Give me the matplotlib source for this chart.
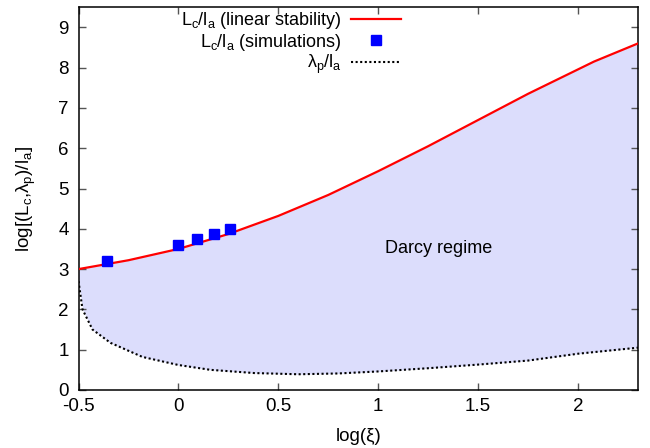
import numpy as np
import matplotlib
matplotlib.use("Agg")
import matplotlib.pyplot as plt

plt.rcParams['font.family'] = ['Liberation Sans', 'DejaVu Sans']
plt.rcParams['mathtext.fontset'] = 'custom'
plt.rcParams['mathtext.rm'] = 'Liberation Sans'
plt.rcParams['mathtext.it'] = 'Liberation Sans:italic'

# linear stability curve
lin_x = [-0.5, -0.25, 0.0, 0.25, 0.5, 0.75, 1.0, 1.25, 1.5, 1.75, 2.08, 2.3]
lin_y = [3.0, 3.22, 3.5, 3.87, 4.32, 4.84, 5.43, 6.05, 6.7, 7.35, 8.15, 8.6]

# simulations
sim_x = [-0.357, 0.0, 0.092, 0.176, 0.256]
sim_y = [3.2, 3.59, 3.74, 3.86, 3.99]

# lambda_p / l_a
lam_x = [-0.5, -0.48, -0.43, -0.34, -0.18, 0.0, 0.16, 0.38, 0.6, 0.8, 1.0, 1.25, 1.5, 1.75, 2.0, 2.3]
lam_y = [2.7, 2.0, 1.5, 1.17, 0.82, 0.62, 0.5, 0.42, 0.39, 0.41, 0.46, 0.54, 0.63, 0.73, 0.9, 1.05]

xticks = [-0.5, 0, 0.5, 1, 1.5, 2]
xticklabels = ['-0.5', '0', '0.5', '1', '1.5', '2']
yticks = list(range(0, 10))

fig = plt.figure(figsize=(6.5, 4.48), dpi=100)
ax = fig.add_axes([0.1208, 0.1295, 0.8607, 0.8545])

grid = np.linspace(-0.5, 2.3, 400)
lin_i = np.interp(grid, lin_x, lin_y)
lam_i = np.interp(grid, lam_x, lam_y)
ax.fill_between(grid, lam_i, lin_i, color='#dcddfc', lw=0, zorder=1)

l1, = ax.plot(lin_x, lin_y, color='#ff0000', lw=1.6, zorder=3,
              label=r'$\mathrm{L_c/l_a}$ (linear stability)')
l2, = ax.plot(sim_x, sim_y, ls='none', marker='s', ms=6.5, color='#0000ff', zorder=4,
              label=r'$\mathrm{L_c/l_a}$ (simulations)')
l3, = ax.plot(lam_x, lam_y, color='black', lw=1.5, ls=(0, (1, 1.2)), zorder=3,
              label=r'$\mathrm{\lambda_p/l_a}$')

ax.text(1.3, 3.52, 'Darcy regime', fontsize=13, ha='center', va='center', zorder=5)

ax.set_xlim(-0.5, 2.3)
ax.set_ylim(0, 9.5)
ax.set_xticks(xticks)
ax.set_xticklabels(xticklabels)
ax.set_yticks(yticks)
ax.tick_params(direction='in', top=True, right=True, length=5, width=1,
               labelsize=13.5, color='#555555', pad=6)
ax.tick_params(axis='y', pad=7)
for s in ax.spines.values():
    s.set_linewidth(1.1)

ax.set_xlabel('log(ξ)', fontsize=13.5, labelpad=9)
ax.set_ylabel(r'log[(L$_\mathrm{c}$,λ$_\mathrm{p}$)/l$_\mathrm{a}$]', fontsize=13.5)
ax.yaxis.set_label_coords(-0.072, 0.5)

leg = ax.legend(handles=[l1, l2, l3], loc='upper right', bbox_to_anchor=(0.58, 0.997),
                frameon=False, markerfirst=False, fontsize=13, handlelength=2.8,
                handletextpad=0.5, labelspacing=0.03, numpoints=1, borderaxespad=0,
                borderpad=0.1)
for t in leg.get_texts():
    t.set_ha('right')
leg._legend_box.align = 'right'

fig.savefig('out.png', dpi=100)
